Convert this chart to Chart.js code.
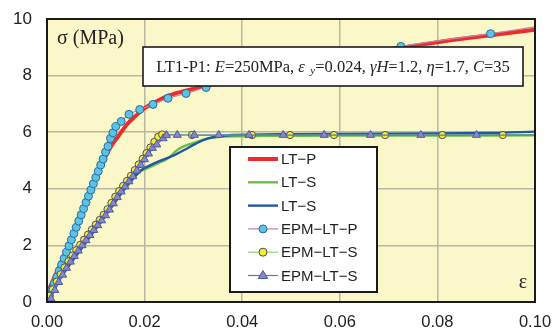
<!DOCTYPE html>
<html>
<head>
<meta charset="utf-8">
<script src="https://cdn.jsdelivr.net/npm/chart.js@4.4.1/dist/chart.umd.min.js"></script>
<style>
  html, body { margin: 0; padding: 0; background: #ffffff; }
  #wrap { width: 558px; height: 336px; position: relative; }
</style>
</head>
<body>
<div id="wrap"><canvas id="c" width="558" height="336"></canvas></div>
<script>
// Axis ticks
const xTicks = [0.00, 0.02, 0.04, 0.06, 0.08, 0.10];
const yTicks = [0, 2, 4, 6, 8, 10];

// LT-P (red, solid)
const ltpEps = [0, 0.002, 0.004, 0.006, 0.008, 0.010, 0.012, 0.0135, 0.015, 0.0165, 0.018, 0.020, 0.022, 0.025, 0.028, 0.032, 0.036, 0.045, 0.055, 0.065, 0.075, 0.085, 0.100];
const ltpSig = [0.3, 1.05, 1.85, 2.7, 3.55, 4.4, 5.15, 5.6, 5.95, 6.3, 6.55, 6.85, 7.05, 7.3, 7.45, 7.62, 7.78, 8.1, 8.45, 8.8, 9.05, 9.3, 9.62];

// LT-S (green, solid)
const ltsGreenEps = [0, 0.004, 0.008, 0.012, 0.016, 0.019, 0.0205, 0.023, 0.025, 0.0265, 0.028, 0.030, 0.033, 0.036, 0.045, 0.060, 0.080, 0.100];
const ltsGreenSig = [0.1, 1.15, 2.1, 3.05, 4.0, 4.6, 4.72, 4.92, 5.1, 5.35, 5.5, 5.62, 5.78, 5.85, 5.87, 5.88, 5.88, 5.89];

// LT-S (blue, solid)
const ltsBlueEps = [0, 0.004, 0.008, 0.012, 0.016, 0.019, 0.021, 0.023, 0.026, 0.028, 0.030, 0.032, 0.034, 0.038, 0.050, 0.070, 0.090, 0.100];
const ltsBlueSig = [0.1, 1.17, 2.12, 3.07, 4.02, 4.62, 4.82, 4.98, 5.18, 5.36, 5.55, 5.72, 5.82, 5.9, 5.93, 5.95, 5.97, 6.02];

// EPM-LT-P (cyan circles)
const epmPEps = [0.0005, 0.001, 0.0015, 0.002, 0.0025, 0.003, 0.0035, 0.004, 0.0045, 0.005, 0.0055, 0.006, 0.0065, 0.007, 0.0075, 0.008, 0.0085, 0.009, 0.0095, 0.010, 0.0105, 0.011, 0.0115, 0.012, 0.0125, 0.013, 0.0135, 0.0141, 0.0152, 0.0168, 0.019, 0.0217, 0.0248, 0.0285, 0.0326, 0.0725, 0.0909, 0.1];
const epmPSig = [0.22, 0.44, 0.66, 0.88, 1.1, 1.32, 1.54, 1.76, 1.98, 2.2, 2.42, 2.64, 2.86, 3.08, 3.3, 3.52, 3.74, 3.96, 4.18, 4.4, 4.62, 4.84, 5.05, 5.3, 5.5, 5.78, 5.98, 6.2, 6.38, 6.63, 6.8, 6.98, 7.2, 7.37, 7.58, 9.03, 9.48, 9.72];

// EPM-LT-S (yellow circles)
const epmSyEps = [0.0004, 0.0012, 0.002, 0.0028, 0.0036, 0.0044, 0.0052, 0.006, 0.0068, 0.0076, 0.0084, 0.0092, 0.010, 0.0108, 0.0116, 0.0124, 0.0132, 0.014, 0.0148, 0.0156, 0.0164, 0.0172, 0.018, 0.0188, 0.0196, 0.0204, 0.0212, 0.022, 0.0228, 0.0236, 0.0297, 0.042, 0.0498, 0.0588, 0.0693, 0.081, 0.0934, 0.1];
const epmSySig = [0.22, 0.45, 0.72, 0.98, 1.22, 1.44, 1.64, 1.83, 2.02, 2.2, 2.38, 2.56, 2.73, 2.9, 3.08, 3.28, 3.5, 3.72, 3.92, 4.1, 4.28, 4.46, 4.66, 4.86, 5.06, 5.26, 5.46, 5.66, 5.84, 5.92, 5.9, 5.9, 5.9, 5.9, 5.9, 5.9, 5.9, 5.9];

// EPM-LT-S (violet triangles)
const epmStEps = [0.0008, 0.0016, 0.0024, 0.0032, 0.004, 0.0048, 0.0056, 0.0064, 0.0072, 0.008, 0.0088, 0.0096, 0.0104, 0.0112, 0.012, 0.0128, 0.0136, 0.0144, 0.0152, 0.016, 0.0168, 0.0176, 0.0184, 0.0192, 0.020, 0.0208, 0.0216, 0.0225, 0.0238, 0.0245, 0.0267, 0.0302, 0.0352, 0.0414, 0.0484, 0.0568, 0.0663, 0.0766, 0.088, 0.1];
const epmStSig = [0.12, 0.42, 0.7, 0.96, 1.2, 1.42, 1.62, 1.81, 2.0, 2.18, 2.36, 2.54, 2.71, 2.88, 3.06, 3.26, 3.48, 3.7, 3.9, 4.08, 4.26, 4.44, 4.64, 4.84, 5.04, 5.24, 5.44, 5.56, 5.78, 5.89, 5.9, 5.9, 5.9, 5.9, 5.9, 5.9, 5.9, 5.9, 5.9, 5.9];

const legendNames = ['LT\u2212P', 'LT\u2212S', 'LT\u2212S', 'EPM\u2212LT\u2212P', 'EPM\u2212LT\u2212S', 'EPM\u2212LT\u2212S'];

function pts(xs, ys) { return xs.map((x, i) => ({ x: x, y: ys[i] })); }
// the last point of each marker series only continues the line to the edge
function markerRadius(r) {
  return (ctx) => (ctx.dataIndex === ctx.dataset.data.length - 1 ? 0 : r);
}

const datasets = [
  { label: legendNames[5], data: pts(epmStEps, epmStSig), legendIndex: 5,
    borderColor: '#4f79c4', borderWidth: 1.2, pointStyle: 'triangle',
    pointRadius: markerRadius(4.6), pointBackgroundColor: '#8c86c6', pointBorderColor: '#4a5aa6', pointBorderWidth: 1 },
  { label: legendNames[4], data: pts(epmSyEps, epmSySig), legendIndex: 4,
    borderColor: '#8fd06e', borderWidth: 1.2, pointStyle: 'circle',
    pointRadius: markerRadius(3.6), pointBackgroundColor: '#f6ee2c', pointBorderColor: '#4a4a6a', pointBorderWidth: 1 },
  { label: legendNames[3], data: pts(epmPEps, epmPSig), legendIndex: 3,
    borderColor: '#c47fa6', borderWidth: 1.2, pointStyle: 'circle',
    pointRadius: markerRadius(4.0), pointBackgroundColor: '#5cc4e2', pointBorderColor: '#2a6ca8', pointBorderWidth: 1 },
  { label: legendNames[2], data: pts(ltsBlueEps, ltsBlueSig), legendIndex: 2,
    borderColor: '#2456a6', borderWidth: 2.4, pointRadius: 0 },
  { label: legendNames[1], data: pts(ltsGreenEps, ltsGreenSig), legendIndex: 1,
    borderColor: '#6cbf45', borderWidth: 2.4, pointRadius: 0 },
  { label: legendNames[0], data: pts(ltpEps, ltpSig), legendIndex: 0,
    borderColor: '#ee2a2a', borderWidth: 4, pointRadius: 0 }
];
datasets.forEach(d => { d.showLine = true; d.tension = 0.3; d.fill = false; d.pointHoverRadius = 0; });

const PLOT_BG = '#faf7c9';

// background, frame, axis titles, parameter box and legend box
const decorations = {
  id: 'decorations',
  beforeDraw(chart) {
    const { ctx, chartArea: a } = chart;
    ctx.save();
    ctx.fillStyle = PLOT_BG;
    ctx.fillRect(a.left, a.top, a.right - a.left, a.bottom - a.top);
    ctx.restore();
  },
  afterDatasetsDraw(chart) {
    const { ctx, chartArea: a } = chart;
    ctx.save();
    // frame
    ctx.strokeStyle = '#1a1a1a';
    ctx.lineWidth = 2;
    ctx.strokeRect(a.left, a.top, a.right - a.left, a.bottom - a.top);

    // axis titles inside the plot
    ctx.fillStyle = '#222';
    ctx.font = '20px "Liberation Serif", "Times New Roman", serif';
    ctx.textBaseline = 'middle';
    ctx.textAlign = 'left';
    ctx.fillText('\u03c3 (MPa)', a.left + 10, a.top + 20);
    ctx.textAlign = 'center';
    ctx.fillText('\u03b5', a.right - 12, a.bottom - 19);

    // parameter box
    const bx = 143, by = 47, bw = 380, bh = 39;
    ctx.fillStyle = '#ffffff';
    ctx.fillRect(bx, by, bw, bh);
    ctx.strokeStyle = '#1a1a1a';
    ctx.lineWidth = 1.6;
    ctx.strokeRect(bx, by, bw, bh);
    const serif = '"Liberation Serif", "Times New Roman", serif';
    const parts = [
      ['LT1-P1: ', ''], ['E', 'italic '], ['=250MPa, ', ''], ['\u03b5', 'italic '], ['  y', 'sub'],
      ['=0.024, ', ''], ['\u03b3H', 'italic '], ['=1.2, ', ''], ['\u03b7', 'italic '], ['=1.7, ', ''],
      ['C', 'italic '], ['=35', '']
    ];
    const fontFor = (st) => st === 'sub' ? 'italic 11px ' + serif : st + '16.5px ' + serif;
    let total = 0;
    parts.forEach(p => { ctx.font = fontFor(p[1]); total += ctx.measureText(p[0]).width; });
    let tx = bx + (bw - total) / 2;
    const ty = by + bh / 2 + 1;
    ctx.fillStyle = '#222';
    ctx.textAlign = 'left';
    ctx.textBaseline = 'middle';
    parts.forEach(p => {
      ctx.font = fontFor(p[1]);
      ctx.fillText(p[0], tx, p[1] === 'sub' ? ty + 4 : ty);
      tx += ctx.measureText(p[0]).width;
    });

    // legend box
    const lx = 230, ly = 147, lw = 147, lh = 145;
    ctx.fillStyle = '#ffffff';
    ctx.fillRect(lx, ly, lw, lh);
    ctx.strokeStyle = '#1a1a1a';
    ctx.lineWidth = 2;
    ctx.strokeRect(lx, ly, lw, lh);
    const ordered = chart.data.datasets.slice().sort((p, q) => p.legendIndex - q.legendIndex);
    ctx.font = '15px "Liberation Sans", Arial, sans-serif';
    ordered.forEach((d, i) => {
      const y = ly + 12 + i * 23.3;
      const x0 = lx + 18, x1 = lx + 48;
      ctx.strokeStyle = d.borderColor;
      ctx.lineWidth = d.borderWidth;
      ctx.beginPath(); ctx.moveTo(x0, y); ctx.lineTo(x1, y); ctx.stroke();
      if (d.pointStyle) {
        ctx.fillStyle = d.pointBackgroundColor;
        ctx.strokeStyle = d.pointBorderColor;
        ctx.lineWidth = 1;
        const cx = (x0 + x1) / 2;
        ctx.beginPath();
        if (d.pointStyle === 'triangle') {
          const r = 5;
          ctx.moveTo(cx, y - r); ctx.lineTo(cx + r * 0.95, y + r * 0.6); ctx.lineTo(cx - r * 0.95, y + r * 0.6); ctx.closePath();
        } else {
          ctx.arc(cx, y, 4, 0, Math.PI * 2);
        }
        ctx.fill(); ctx.stroke();
      }
      ctx.fillStyle = '#222';
      ctx.textAlign = 'left';
      ctx.textBaseline = 'middle';
      ctx.fillText(d.label, x1 + 3, y + 1);
    });
    ctx.restore();
  }
};

new Chart(document.getElementById('c'), {
  type: 'scatter',
  data: { datasets: datasets },
  plugins: [decorations],
  options: {
    responsive: false,
    animation: false,
    events: [],
    layout: { padding: { top: 19, right: 23, left: 0, bottom: 0 } },
    plugins: { legend: { display: false }, tooltip: { enabled: false } },
    scales: {
      x: {
        type: 'linear', min: 0, max: 0.1,
        afterFit: (s) => { s.height = 34; s.paddingLeft = 0; s.paddingRight = 0; },
        afterBuildTicks: (s) => { s.ticks = xTicks.map(v => ({ value: v })); },
        ticks: { padding: 11, color: '#222', font: { family: '"Liberation Sans", Arial, sans-serif', size: 16.5 },
                 callback: (v) => Number(v).toFixed(2) },
        grid: { color: '#b9b8a6', lineWidth: 1.5, drawTicks: false },
        border: { display: false }
      },
      y: {
        type: 'linear', min: 0, max: 10,
        afterFit: (s) => { s.width = 47; s.paddingTop = 0; s.paddingBottom = 0; },
        afterBuildTicks: (s) => { s.ticks = yTicks.map(v => ({ value: v })); },
        ticks: { padding: 15, color: '#222', font: { family: '"Liberation Sans", Arial, sans-serif', size: 17 } },
        grid: { color: '#b9b8a6', lineWidth: 1.5, drawTicks: false },
        border: { display: false }
      }
    }
  }
});
</script>
</body>
</html>
